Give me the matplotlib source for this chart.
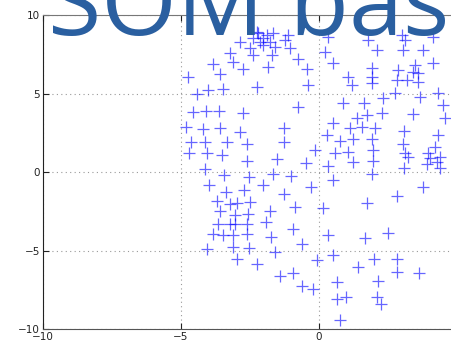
import matplotlib
matplotlib.use("Agg")
import matplotlib.pyplot as plt

# data values
xs = [
    -2.26, -2.20, -1.90, -1.65, -2.38, -2.02, -2.86, -2.14, -1.78, -2.50, -2.02, -1.59,
    -1.11, -1.23, -1.05, -3.22, -2.38, -1.71, -3.10, -2.74, -3.83, -3.59, -1.84, -0.75,
    -0.45, -0.39, -2.26, -4.73, -4.43, -4.01, -3.47,
    0.34, 0.22, 0.52, 1.79, 2.09, 3.00, 3.12, 3.06, 3.78, 4.14, 1.06, 1.18, 1.91, 1.91,
    1.91, 2.87, 2.81, 3.48, 3.42, 3.60, 3.18, 3.60, 4.14, 2.75, 3.66, 4.32, 2.33,
    -4.55, -4.09, -3.61, -2.77, -0.77, -4.82, -4.19, -3.59, -2.86, -1.27, -4.65, -4.12,
    -3.32, -2.62, -1.27, -4.71, -4.07, -3.53, -2.60, -1.53, -0.14, -0.47, -4.13, -3.44,
    -2.52, -1.65, -1.03, -3.97, -3.38, -2.71, -2.02, -1.27, -0.30, -3.68, -3.22, -2.96,
    -2.50, -3.59, -3.04, -2.56, -1.78, -0.87, 0.16,
    0.88, 1.63, 3.42, 4.50, 4.57, 2.27, 1.73, 1.36, 0.52, 0.28, 1.12, 1.55, 2.03, 0.76,
    1.24, 1.91, 3.08, 4.32, 3.06, 4.20, 0.58, 1.06, 1.97, 3.12, 3.24, 3.96, 4.02, 4.38,
    3.90, 4.26, 4.38, 1.24, 1.97, 0.34, 3.08, 1.91, 0.52, 2.81, 3.78, 1.73,
    -3.65, -3.22, -3.04, -2.62, -1.92, -0.93, -3.83, -3.49, -3.10, -2.62, -1.75, 0.34,
    1.67, 2.51, -3.13, -2.52, -0.63, -4.07, -1.59, -2.98, -2.23, -0.08, 0.50, 1.43,
    1.99, 2.84, 2.84, 3.64, -1.41, -0.93, -0.63, -0.21, 0.64, 2.15, 0.66, 0.98, 2.11,
    2.23, 0.76,
]
ys = [
    8.96, 8.85, 8.75, 8.85, 8.54, 8.54, 8.32, 8.32, 8.32, 7.90, 8.11, 8.00,
    8.75, 8.43, 7.90, 7.62, 7.47, 7.47, 7.05, 6.56, 6.90, 6.26, 6.73, 7.20,
    6.58, 5.56, 5.41, 6.09, 4.99, 5.24, 5.29,
    8.64, 7.69, 6.94, 8.43, 7.79, 8.75, 8.43, 7.79, 7.79, 8.64, 6.09, 5.56, 6.62, 6.09,
    5.67, 6.52, 5.88, 6.84, 6.41, 6.31, 5.88, 5.77, 6.99, 5.07, 4.82, 5.03, 4.71,
    3.82, 3.93, 3.93, 3.80, 4.18, 2.91, 2.74, 2.82, 2.59, 2.80, 1.95, 1.91,
    1.91, 1.80, 1.95, 1.21, 1.21, 1.10, 0.74, 0.83, 1.42, 0.62, 0.19, -0.17,
    -0.28, -0.11, -0.23, -0.81, -1.23, -1.13, -0.83, -1.40, -0.91, -1.80, -2.04, -1.97,
    -1.87, -2.44, -2.72, -2.65, -2.46, -2.23, -2.25,
    4.44, 4.44, 3.72, 4.29, 3.44, 3.80, 3.65, 3.44, 3.16, 2.38, 2.80, 2.91, 2.80, 2.02,
    2.10, 2.10, 2.65, 2.38, 1.80, 1.63, 1.25, 1.30, 1.42, 1.25, 1.00, 1.21, 0.89, 1.00,
    0.53, 0.68, 0.25, 0.68, 0.74, 0.40, 0.25, -0.11, -0.49, -1.51, -0.96, -1.97,
    -3.29, -3.29, -3.29, -3.29, -3.14, -3.63, -3.93, -3.99, -3.99, -3.93, -4.10, -3.99,
    -4.20, -3.84, -4.73, -4.84, -4.59, -4.90, -5.05, -5.52, -5.86, -5.58, -5.27, -6.01,
    -5.54, -5.54, -6.33, -6.39, -6.60, -6.39, -7.24, -7.45, -6.96, -6.92, -8.07, -7.96, -7.92,
    -8.39, -9.41,
]
x_ticks = [-10, -5, 0]
y_ticks = [-10, -5, 0, 5, 10]
title_text = "SOM based"

fig = plt.figure(figsize=(4.52, 3.43), dpi=100)
ax = fig.add_axes([43 / 452, 13.7 / 343, 1 - 43 / 452, 314 / 343])
ax.plot(xs, ys, linestyle="none", marker="+", markersize=8.5, mew=0.9,
        color="blue", alpha=0.6)
ax.set_xlim(-10, 4.82)
ax.set_ylim(-10, 10)
ax.set_xticks(x_ticks)
ax.set_yticks(y_ticks)
ax.grid(True, linestyle=(0, (1, 3)), color="#999999", linewidth=0.8)
ax.tick_params(direction="in", length=4, labelsize=7.5, colors="#222222",
               top=True, right=False, pad=2)
ax.spines["right"].set_visible(False)
ax.spines["left"].set_color("#222222")
ax.spines["bottom"].set_color("#555555")
ax.spines["top"].set_color("#777777")

fig.text(48 / 452, 1 - 35 / 343, title_text, fontsize=70, family="Open Sans",
         color="#2a5fa0", va="baseline", ha="left")

fig.savefig("out.png", dpi=100)
